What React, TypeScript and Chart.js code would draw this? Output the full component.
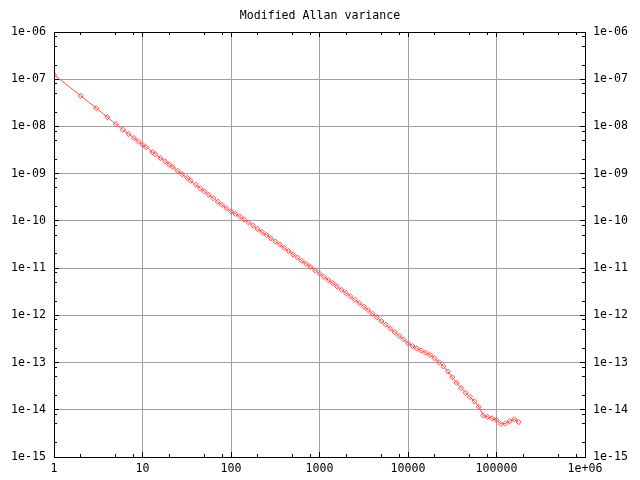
import { useEffect, useRef } from "react";
import { Chart, registerables } from "chart.js";

Chart.register(...registerables);

// Averaging time tau (s)
const tau = [
  1, 2, 3, 4, 5, 6, 7, 8, 9, 10,
  11, 13, 14, 16, 18, 20, 22, 25, 28, 32, 35, 40, 45, 50, 56, 63, 71, 79, 89, 100,
  112, 126, 141, 158, 178, 200, 224, 251, 282, 316, 355, 398, 447, 501, 562, 631, 708, 794, 891, 1000,
  1122, 1259, 1413, 1585, 1778, 1995, 2239, 2512, 2818, 3162, 3548, 3981, 4467, 5012, 5623, 6310, 7079, 7943, 8913, 10000,
  11220, 12589, 14125, 15849, 17783, 19953, 22387, 25119, 28184, 31623, 35481, 39811, 44668, 50119, 56234, 63096, 70795, 79433, 89125, 100000,
  112202, 125893, 141254, 158489, 177828,
];

// Modified Allan variance values
const mvar = [
  1.25e-7, 4.47e-8, 2.45e-8, 1.58e-8, 1.12e-8, 8.51e-9, 6.92e-9, 5.68e-9, 4.79e-9, 4.11e-9,
  3.63e-9, 2.88e-9, 2.57e-9, 2.14e-9, 1.82e-9, 1.58e-9, 1.38e-9, 1.15e-9, 9.77e-10, 8.13e-10, 7.08e-10, 5.82e-10, 4.9e-10, 4.22e-10, 3.59e-10, 3.02e-10, 2.54e-10, 2.19e-10, 1.84e-10, 1.58e-10,
  1.41e-10, 1.23e-10, 1.07e-10, 9.23e-11, 7.94e-11, 6.76e-11, 5.82e-11, 5.01e-11, 4.27e-11, 3.67e-11, 3.16e-11, 2.69e-11, 2.29e-11, 1.95e-11, 1.68e-11, 1.43e-11, 1.23e-11, 1.06e-11, 9.02e-12, 7.67e-12,
  6.53e-12, 5.56e-12, 4.79e-12, 4.07e-12, 3.47e-12, 2.95e-12, 2.51e-12, 2.14e-12, 1.82e-12, 1.53e-12, 1.29e-12, 1.08e-12, 9.12e-13, 7.59e-13, 6.31e-13, 5.25e-13, 4.42e-13, 3.67e-13, 3.09e-13, 2.57e-13,
  2.24e-13, 2.0e-13, 1.8e-13, 1.62e-13, 1.45e-13, 1.23e-13, 1.02e-13, 8.32e-14, 6.46e-14, 4.9e-14, 3.72e-14, 2.88e-14, 2.29e-14, 1.86e-14, 1.51e-14, 1.15e-14, 7.59e-15, 7.08e-15, 6.61e-15, 6.03e-15,
  5.01e-15, 5.13e-15, 5.75e-15, 6.31e-15, 5.5e-15,
];

const xMajorTicks = [1, 10, 100, 1000, 10000, 100000, 1000000];
const xTickLabels = ["1", "10", "100", "1000", "10000", "100000", "1e+06"];
const yMajorTicks = [1e-15, 1e-14, 1e-13, 1e-12, 1e-11, 1e-10, 1e-9, 1e-8, 1e-7, 1e-6];
const yTickLabels = ["1e-15", "1e-14", "1e-13", "1e-12", "1e-11", "1e-10", "1e-09", "1e-08", "1e-07", "1e-06"];
const minorSteps = [2, 5, 8];
const titleText = "Modified Allan variance";

const FONT = "'DejaVu Sans Mono', 'Liberation Mono', monospace";
const FONT_SIZE = 11.6;
const GRID = "#a0a0a0";
const LINE = "#ff5050";

const minorsOf = (majors: number[]) => {
  const out: number[] = [];
  for (let i = 0; i < majors.length - 1; i++) {
    for (const m of minorSteps) out.push(majors[i] * m);
  }
  return out;
};

const align = (p: number) => Math.round(p - 0.5) + 0.5;

const frameTicks = {
  id: "frameTicks",
  afterDatasetsDraw(chart: any) {
    const { ctx, chartArea } = chart;
    const xs = chart.scales.x;
    const ys = chart.scales.y;
    const L = Math.round(chartArea.left);
    const R = Math.round(chartArea.right);
    const T = Math.round(chartArea.top);
    const B = Math.round(chartArea.bottom);
    ctx.save();
    ctx.strokeStyle = "#000";
    ctx.lineWidth = 1;
    ctx.beginPath();
    const xt: [number, number][] = [
      ...xMajorTicks.map((v) => [v, 5] as [number, number]),
      ...minorsOf(xMajorTicks).map((v) => [v, 3] as [number, number]),
    ];
    for (const [v, len] of xt) {
      const px = align(xs.getPixelForValue(v));
      ctx.moveTo(px, B);
      ctx.lineTo(px, B - len);
      ctx.moveTo(px, T);
      ctx.lineTo(px, T + len);
    }
    const yt: [number, number][] = [
      ...yMajorTicks.map((v) => [v, 5] as [number, number]),
      ...minorsOf(yMajorTicks).map((v) => [v, 3] as [number, number]),
    ];
    for (const [v, len] of yt) {
      const py = align(ys.getPixelForValue(v));
      ctx.moveTo(L, py);
      ctx.lineTo(L + len, py);
      ctx.moveTo(R, py);
      ctx.lineTo(R - len, py);
    }
    ctx.stroke();
    ctx.strokeRect(L + 0.5, T + 0.5, R - L, B - T);
    ctx.restore();
  },
};

const tickFont = { family: FONT, size: FONT_SIZE, weight: "normal" as const };

export default function App() {
  const ref = useRef<HTMLCanvasElement | null>(null);

  useEffect(() => {
    if (!ref.current) return;
    const yLabel = (v: any) => {
      const i = yMajorTicks.indexOf(Number(v));
      return i >= 0 ? yTickLabels[i] : "";
    };
    const yTicksBuild = (axis: any) => {
      axis.ticks = yMajorTicks.map((v) => ({ value: v, major: true }));
    };
    const chart = new Chart(ref.current, {
      type: "line",
      data: {
        datasets: [
          {
            label: "MVAR",
            data: tau.map((t, i) => ({ x: t, y: mvar[i] })),
            borderColor: LINE,
            borderWidth: 1,
            backgroundColor: "transparent",
            pointStyle: "rectRot",
            pointRadius: 2.6,
            pointBorderWidth: 1,
            pointBorderColor: LINE,
            pointBackgroundColor: "transparent",
            tension: 0,
            fill: false,
          },
        ],
      },
      plugins: [frameTicks],
      options: {
        animation: false,
        responsive: false,
        layout: { padding: 0 },
        plugins: {
          legend: { display: false },
          tooltip: { enabled: false },
          title: {
            display: true,
            text: titleText,
            color: "#000",
            font: { family: FONT, size: FONT_SIZE, weight: "normal", lineHeight: "14px" },
            padding: { top: 9, bottom: 9 },
          },
        },
        scales: {
          x: {
            type: "logarithmic",
            position: "bottom",
            min: 1,
            max: 1000000,
            afterBuildTicks: (axis: any) => {
              axis.ticks = xMajorTicks.map((v) => ({ value: v, major: true }));
            },
            afterFit: (s: any) => {
              s.height = 23;
            },
            ticks: {
              autoSkip: false,
              maxRotation: 0,
              minRotation: 0,
              color: "#000",
              font: tickFont,
              padding: 5,
              callback: (v: any) => {
                const i = xMajorTicks.indexOf(Number(v));
                return i >= 0 ? xTickLabels[i] : "";
              },
            },
            grid: { color: GRID, lineWidth: 1, drawTicks: false },
            border: { display: false },
          },
          y: {
            type: "logarithmic",
            position: "left",
            min: 1e-15,
            max: 1e-6,
            afterBuildTicks: yTicksBuild,
            afterFit: (s: any) => {
              s.width = 54;
            },
            ticks: {
              autoSkip: false,
              color: "#000",
              font: tickFont,
              padding: 8,
              callback: yLabel,
            },
            grid: { color: GRID, lineWidth: 1, drawTicks: false },
            border: { display: false },
          },
          y2: {
            type: "logarithmic",
            position: "right",
            min: 1e-15,
            max: 1e-6,
            afterBuildTicks: yTicksBuild,
            afterFit: (s: any) => {
              s.width = 55;
            },
            ticks: {
              autoSkip: false,
              color: "#000",
              font: tickFont,
              padding: 8,
              callback: yLabel,
            },
            grid: { display: false, drawTicks: false },
            border: { display: false },
          },
        },
      },
    } as any);
    return () => chart.destroy();
  }, []);

  return (
    <div style={{ position: "absolute", left: 0, top: 0, width: 640, height: 480, background: "#fff" }}>
      <canvas ref={ref} width={640} height={480} style={{ display: "block" }} />
    </div>
  );
}
